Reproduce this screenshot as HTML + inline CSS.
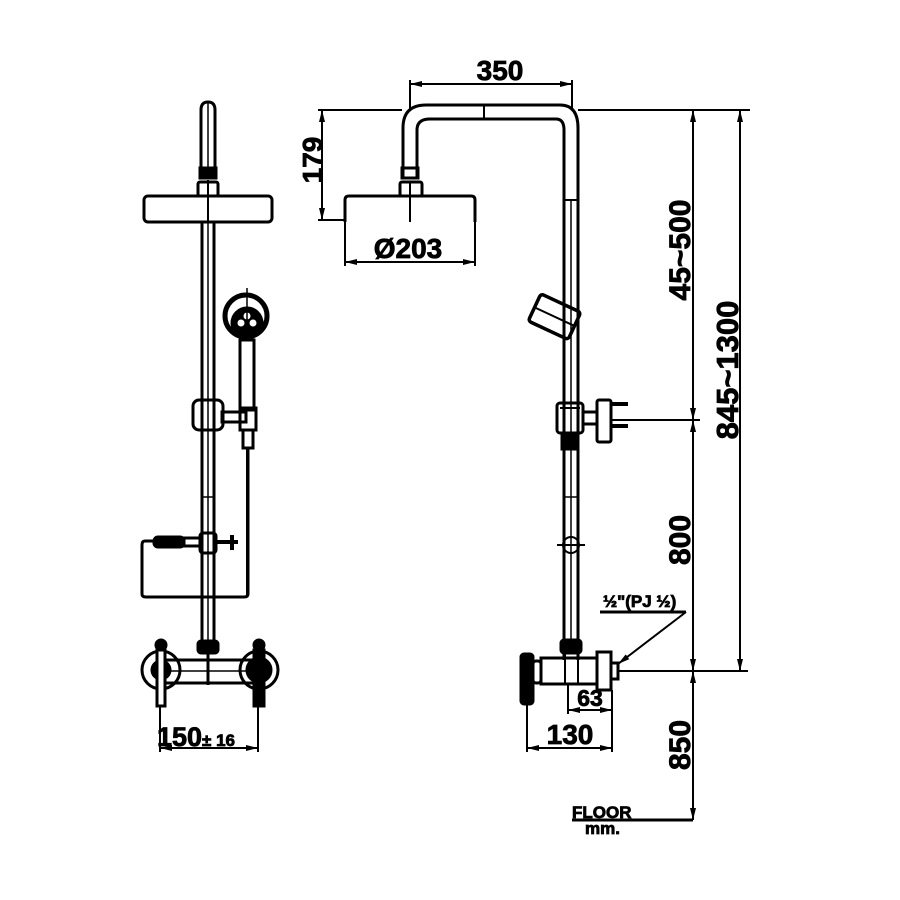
<!DOCTYPE html>
<html><head><style>html,body{margin:0;padding:0;background:#fff}svg{display:block}text{font-family:"Liberation Sans",sans-serif;font-weight:bold;fill:#000;stroke:#000;stroke-width:0.8}</style></head>
<body>
<svg width="900" height="900" viewBox="0 0 900 900" xmlns="http://www.w3.org/2000/svg">
<defs>
<marker id="a" markerWidth="12" markerHeight="8" refX="12" refY="4" orient="auto-start-reverse" markerUnits="userSpaceOnUse"><path d="M0,1 L12,4 L0,7 Z" fill="#000"/></marker>
</defs>
<g fill="none" stroke="#000" stroke-width="3">
<!-- LEFT VIEW -->
<path d="M201,178 V110 Q201,102 208,102 Q215,102 215,110 V178"/>
<line x1="208" y1="102" x2="208" y2="178" stroke-width="1.5"/>
<rect x="200" y="168" width="16" height="10" fill="#000"/>
<rect x="198" y="182" width="20" height="14" rx="2"/>
<rect x="144" y="196" width="128" height="26" rx="4"/>
<line x1="208" y1="180" x2="208" y2="222" stroke-width="2"/>
<line x1="202" y1="222" x2="202" y2="640"/>
<line x1="214" y1="222" x2="214" y2="640"/>
<line x1="208" y1="222" x2="208" y2="640" stroke-width="1.5"/>
<rect x="193" y="400" width="30" height="30" rx="6"/>
<rect x="222" y="412" width="24" height="10"/>
<!-- hand shower -->
<circle cx="246" cy="316" r="21" stroke-width="5"/>
<circle cx="247" cy="323" r="15" fill="#000"/>
<circle cx="241" cy="323" r="3.5" fill="#fff" stroke="none"/><circle cx="253" cy="323" r="3.5" fill="#fff" stroke="none"/><circle cx="247" cy="316" r="3.5" fill="#fff" stroke="none"/>
<line x1="247" y1="288" x2="247" y2="340" stroke-width="1.5"/>
<rect x="240" y="340" width="14" height="70"/>
<rect x="240" y="408" width="16" height="22"/>
<rect x="243" y="430" width="10" height="18"/>
<line x1="247" y1="448" x2="247" y2="595" stroke-width="2"/>
<!-- soap box -->
<path d="M154,541 H145 Q142,541 142,545 V594 Q142,597 146,597 H244 Q248,597 248,594 V448"/>
<rect x="154" y="537" width="30" height="10" rx="4" fill="#000"/>
<rect x="184" y="538" width="18" height="8"/>
<rect x="200" y="533" width="16" height="20" rx="3"/>
<path d="M216,542 H238 M232,535 V550" stroke-width="4"/>
<line x1="202" y1="497" x2="214" y2="497" stroke-width="1.5"/>
<rect x="198" y="641" width="20" height="12" rx="3" fill="#000"/>
<!-- mixer -->
<line x1="162" y1="660" x2="258" y2="660"/>
<line x1="162" y1="683" x2="258" y2="683"/>
<line x1="162" y1="671" x2="258" y2="671" stroke-width="1.5"/>
<line x1="208" y1="653" x2="208" y2="685"/>
<circle cx="161" cy="670" r="19"/>
<circle cx="259" cy="670" r="19"/>
<circle cx="161" cy="670" r="9" fill="#000"/>
<circle cx="259" cy="670" r="12" fill="#000"/>
<circle cx="161" cy="645" r="5" fill="#000"/>
<circle cx="259" cy="645" r="5" fill="#000"/>
<rect x="157" y="650" width="8" height="56" fill="#fff"/>
<rect x="254" y="650" width="10" height="56" fill="#000"/>
<line x1="160" y1="706" x2="160" y2="752" stroke-width="2"/>
<line x1="258" y1="706" x2="258" y2="752" stroke-width="2"/>
<line x1="160" y1="748" x2="258" y2="748" stroke-width="2" marker-start="url(#a)" marker-end="url(#a)"/>

<!-- RIGHT VIEW -->
<path d="M403,178 V128 Q403,105 426,105 H560 Q578,105 578,128 V660"/>
<path d="M417,178 V130 Q417,119 430,119 H556 Q564,119 564,130 V660"/>
<line x1="484" y1="105" x2="484" y2="119" stroke-width="2"/>
<line x1="564" y1="200" x2="578" y2="200" stroke-width="2"/>
<line x1="571" y1="200" x2="571" y2="640" stroke-width="1.5"/>
<rect x="402" y="168" width="16" height="10"/>
<rect x="400" y="182" width="22" height="14" rx="2"/>
<path d="M345,222 V200 Q345,196 349,196 H471 Q475,196 475,200 V222"/>
<line x1="410" y1="182" x2="410" y2="222" stroke-width="2"/>
<!-- hand shower tilted -->
<g transform="rotate(25 555 318)"><rect x="532" y="302" width="44" height="30" rx="3" stroke-width="3.5"/><line x1="532" y1="317" x2="576" y2="317" stroke-width="2"/></g>
<!-- bracket -->
<rect x="557" y="403" width="26" height="30" rx="3"/>
<line x1="560" y1="408" x2="580" y2="408" stroke-width="2"/>
<rect x="562" y="433" width="16" height="16" fill="#000"/>
<rect x="583" y="412" width="14" height="12"/>
<rect x="597" y="400" width="14" height="42" rx="2"/>
<path d="M611,404 H628 M611,426 H628" stroke-width="4"/>
<line x1="564" y1="497" x2="578" y2="497" stroke-width="1.5"/>
<circle cx="571" cy="545" r="8" stroke-width="2"/>
<line x1="557" y1="545" x2="585" y2="545" stroke-width="2"/>
<rect x="561" y="640" width="20" height="13" rx="3" fill="#000"/>
<!-- mixer side -->
<rect x="521" y="654" width="12" height="50" rx="3" fill="#000"/>
<rect x="533" y="661" width="8" height="22" rx="3"/>
<rect x="541" y="658" width="56" height="26"/>
<line x1="565" y1="653" x2="565" y2="684" stroke-width="2"/>
<line x1="578" y1="653" x2="578" y2="684" stroke-width="2"/>
<rect x="597" y="652" width="14" height="38"/>
<rect x="611" y="663" width="7" height="16"/>
<!-- dims right -->
<line x1="568" y1="684" x2="568" y2="714" stroke-width="2"/>
<line x1="612" y1="690" x2="612" y2="752" stroke-width="2"/>
<line x1="527" y1="704" x2="527" y2="752" stroke-width="2"/>
<line x1="568" y1="710" x2="612" y2="710" stroke-width="2" marker-start="url(#a)" marker-end="url(#a)"/>
<line x1="527" y1="748" x2="612" y2="748" stroke-width="2" marker-start="url(#a)" marker-end="url(#a)"/>
<!-- 350 -->
<line x1="410" y1="80" x2="410" y2="110" stroke-width="2"/>
<line x1="572" y1="80" x2="572" y2="110" stroke-width="2"/>
<line x1="410" y1="84" x2="572" y2="84" stroke-width="2" marker-start="url(#a)" marker-end="url(#a)"/>
<!-- 179 -->
<line x1="318" y1="110" x2="402" y2="110" stroke-width="2"/>
<line x1="578" y1="110" x2="750" y2="110" stroke-width="2"/>
<line x1="318" y1="220" x2="345" y2="220" stroke-width="2"/>
<line x1="322" y1="110" x2="322" y2="220" stroke-width="2" marker-start="url(#a)" marker-end="url(#a)"/>
<!-- Ø203 -->
<line x1="345" y1="222" x2="345" y2="266" stroke-width="2"/>
<line x1="475" y1="222" x2="475" y2="266" stroke-width="2"/>
<line x1="345" y1="262" x2="475" y2="262" stroke-width="2" marker-start="url(#a)" marker-end="url(#a)"/>
<!-- verticals -->
<line x1="611" y1="420" x2="700" y2="420" stroke-width="2"/>
<line x1="618" y1="671" x2="748" y2="671" stroke-width="2"/>
<line x1="693" y1="110" x2="693" y2="420" stroke-width="2" marker-start="url(#a)" marker-end="url(#a)"/>
<line x1="693" y1="420" x2="693" y2="671" stroke-width="2" marker-start="url(#a)" marker-end="url(#a)"/>
<line x1="693" y1="671" x2="693" y2="820" stroke-width="2" marker-start="url(#a)" marker-end="url(#a)"/>
<line x1="740" y1="110" x2="740" y2="671" stroke-width="2" marker-start="url(#a)" marker-end="url(#a)"/>
<line x1="572" y1="820" x2="693" y2="820" stroke-width="3"/>
<!-- leader -->
<line x1="600" y1="612" x2="686" y2="612" stroke-width="3"/>
<line x1="686" y1="612" x2="618" y2="664" stroke-width="2" marker-end="url(#a)"/>
</g>
<g font-size="28">
<text x="500" y="80" text-anchor="middle">350</text>
<text x="408" y="258" text-anchor="middle">Ø203</text>
<text x="196" y="746" text-anchor="middle" font-size="27">150<tspan font-size="17">±</tspan><tspan font-size="17"> 16</tspan></text>
<text x="590" y="706" text-anchor="middle" font-size="23">63</text>
<text x="570" y="744" text-anchor="middle">130</text>
<text transform="translate(322 160) rotate(-90)" text-anchor="middle">179</text>
<text transform="translate(690 250) rotate(-90)" text-anchor="middle" font-size="30">45~500</text>
<text transform="translate(738 370) rotate(-90)" text-anchor="middle" font-size="31">845~1300</text>
<text transform="translate(690 540) rotate(-90)" text-anchor="middle" font-size="30">800</text>
<text transform="translate(690 745) rotate(-90)" text-anchor="middle" font-size="30">850</text>
<text x="603" y="607" font-size="17">½"(PJ ½)</text>
<text x="572" y="818" font-size="17">FLOOR</text>
<text x="585" y="834" font-size="17">mm.</text>
</g>
</svg>
</body></html>
